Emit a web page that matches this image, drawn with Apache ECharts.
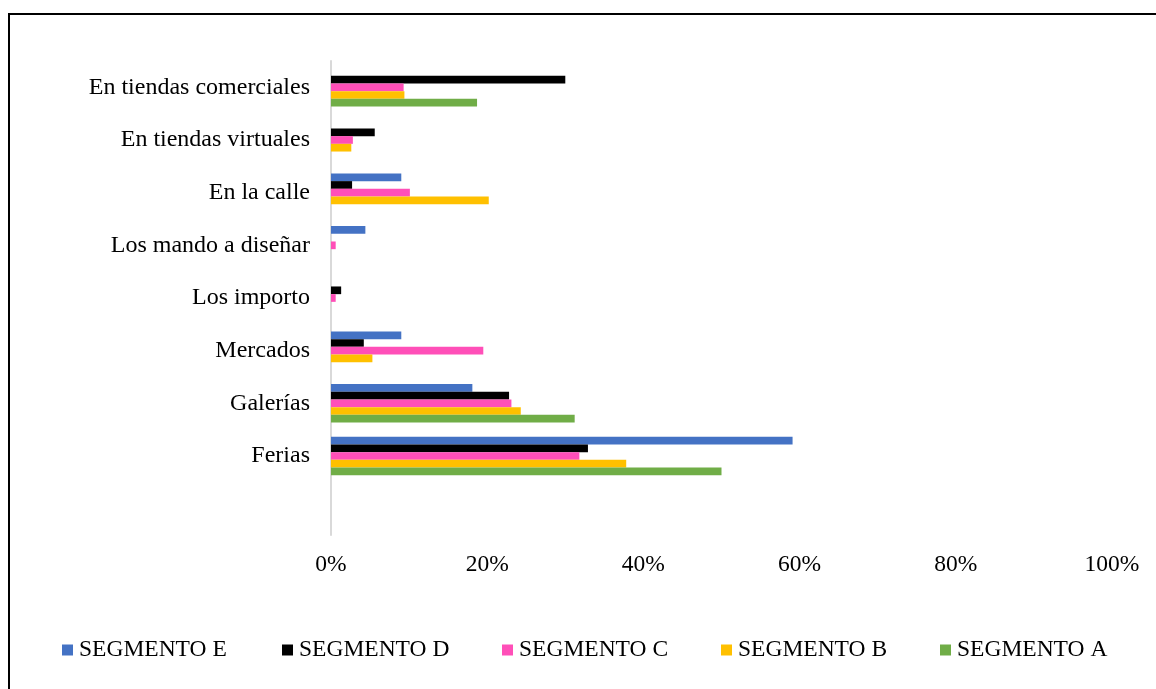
<!DOCTYPE html>
<html><head><meta charset="utf-8">
<script src="https://cdn.jsdelivr.net/npm/echarts@6/dist/echarts.min.js"></script>
<style>
html,body{margin:0;padding:0;background:#fff;}
#c{width:1156px;height:689px;}
#frame{position:absolute;left:8px;top:13px;width:1200px;height:700px;border-left:2px solid #000;border-top:2px solid #000;pointer-events:none;}
</style></head>
<body>
<div id="c"></div>
<div id="frame"></div>
<script>
const categories = ['', 'Ferias', 'Galerías', 'Mercados', 'Los importo', 'Los mando a diseñar', 'En la calle', 'En tiendas virtuales', 'En tiendas comerciales'];
const segE = [null, 59.1, 18.1, 9.0, null, 4.4, 9.0, null, null];
const segD = [null, 32.9, 22.8, 4.2, 1.3, null, 2.7, 5.6, 30.0];
const segC = [null, 31.8, 23.1, 19.5, 0.6, 0.6, 10.1, 2.8, 9.3];
const segB = [null, 37.8, 24.3, 5.3, null, null, 20.2, 2.6, 9.4];
const segA = [null, 50.0, 31.2, null, null, null, null, null, 18.7];
const seriesNames = ['SEGMENTO E','SEGMENTO D','SEGMENTO C','SEGMENTO B','SEGMENTO A'];
const seriesColors = ['#4472c4','#000000','#ff4fb8','#ffc000','#70ad47'];
const seriesData = [segE, segD, segC, segB, segA];

const font = 'Liberation Serif';
const fs = 23.5;
const chart = echarts.init(document.getElementById('c'));
const legendLefts = [62, 282, 502, 721, 940];
chart.setOption({
  animation:false,
  grid:{left:331, right:44, top:61, bottom:154, containLabel:false},
  legend: seriesNames.map((n,i)=>({
    data:[n], left:legendLefts[i], top:638, itemWidth:11, itemHeight:11, itemGap:0, icon:'rect',
    padding:0,
    textStyle:{fontFamily:font, fontSize:fs, color:'#000', padding:[0,0,0,1]}
  })),
  xAxis:{type:'value', min:0, max:100, interval:20,
    axisLine:{show:false}, axisTick:{show:false}, splitLine:{show:false},
    axisLabel:{formatter:v=>v+'%', fontFamily:font, fontSize:fs, color:'#000', margin:18}
  },
  yAxis:{type:'category', data:categories,
    axisLine:{lineStyle:{color:'#d9d9d9', width:2}}, axisTick:{show:false},
    axisLabel:{fontFamily:font, fontSize:24, color:'#000', margin:21}
  },
  series: seriesNames.map((n,i)=>({
    name:n, type:'bar', data:seriesData[i], barGap:'0%', barCategoryGap:'27%',
    itemStyle:{color:seriesColors[i]}
  }))
});
</script>
</body></html>
